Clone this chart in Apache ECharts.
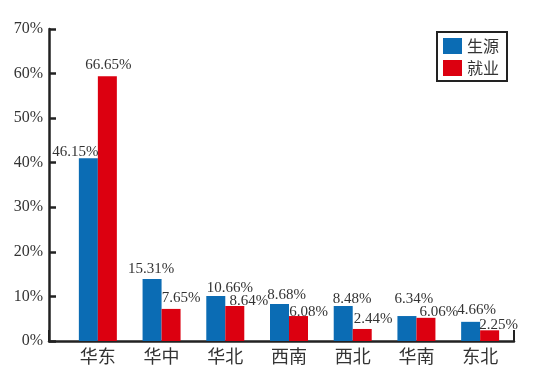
<!DOCTYPE html>
<html><head><meta charset="utf-8">
<script src="https://cdn.jsdelivr.net/npm/echarts@6/dist/echarts.min.js"></script>
<style>html,body{margin:0;padding:0;background:#fff}#c{width:542px;height:383px}</style>
</head><body><div id="c"></div>
<script>
const categories = ['华东','华中','华北','西南','西北','华南','东北'];
const shengyuan = [41.0, 13.9, 10.1, 8.3, 7.85, 5.6, 4.3];
const jiuye = [59.4, 7.2, 7.85, 5.6, 2.7, 5.2, 2.4];
const shengyuanLabels = ['46.15%','15.31%','10.66%','8.68%','8.48%','6.34%','4.66%'];
const jiuyeLabels = ['66.65%','7.65%','8.64%','6.08%','2.44%','6.06%','2.25%'];

// label placement styling (pixel nudges of the value labels, as in the original layout)
const blueLabelNudge = [[-13,2],[-1,-1],[14,1],[7,0],[9,2],[7,-8],[6,-3]];
const redLabelNudge = [[1,-3],[10,-2],[14,4],[10,5],[11,-1],[13,3],[9,3]];

const chart = echarts.init(document.getElementById('c'));
const serif = 'Liberation Serif';
function labelled(values, texts, nudges) {
  return values.map((v, i) => ({
    value: v,
    label: {formatter: texts[i], offset: nudges[i]}
  }));
}
const labelStyle = {show:true, position:'top', distance:1, fontFamily:serif, fontSize:15, color:'#333'};
chart.setOption({
  animation:false,
  grid:[
    {left:49, right:28, top:29, bottom:42},
    {left:66, right:30, top:29, bottom:42}
  ],
  legend:{
    orient:'vertical', left:437, top:32, data:['生源','就业'],
    borderColor:'#222', borderWidth:2, padding:[6,8,5,6],
    itemWidth:19, itemHeight:16, itemGap:6,
    icon:'rect',
    textStyle:{fontSize:16, color:'#333', fontFamily:'Noto Sans CJK SC'}
  },
  xAxis:[
    {gridIndex:0, type:'value', min:0, max:1, interval:1,
     axisLine:{show:true, lineStyle:{color:'#222', width:2.5}},
     axisTick:{show:true, inside:true, length:11, lineStyle:{color:'#222', width:2}},
     axisLabel:{show:false}, splitLine:{show:false}},
    {gridIndex:1, type:'category', data:categories,
     axisLine:{show:false}, axisTick:{show:false},
     axisLabel:{fontSize:18, color:'#333', margin:6, fontFamily:'Noto Sans CJK SC'}}
  ],
  yAxis:[
    {gridIndex:0, type:'value', min:0, max:70, interval:10,
     axisLine:{show:true, lineStyle:{color:'#222', width:2.5}},
     axisTick:{show:true, inside:true, length:7, lineStyle:{color:'#222', width:2.5}},
     axisLabel:{formatter:v=>v+'%', fontFamily:serif, fontSize:16, color:'#333', margin:6},
     splitLine:{show:false}},
    {gridIndex:1, type:'value', min:0, max:70, interval:10, show:false}
  ],
  series:[
    {name:'生源', type:'bar', xAxisIndex:1, yAxisIndex:1,
     data:labelled(shengyuan, shengyuanLabels, blueLabelNudge),
     barWidth:19, barGap:'0%', itemStyle:{color:'#0b6cb4'}, label:labelStyle},
    {name:'就业', type:'bar', xAxisIndex:1, yAxisIndex:1,
     data:labelled(jiuye, jiuyeLabels, redLabelNudge),
     barWidth:19, barGap:'0%', itemStyle:{color:'#dc0010'}, label:labelStyle}
  ]
});
</script></body></html>
